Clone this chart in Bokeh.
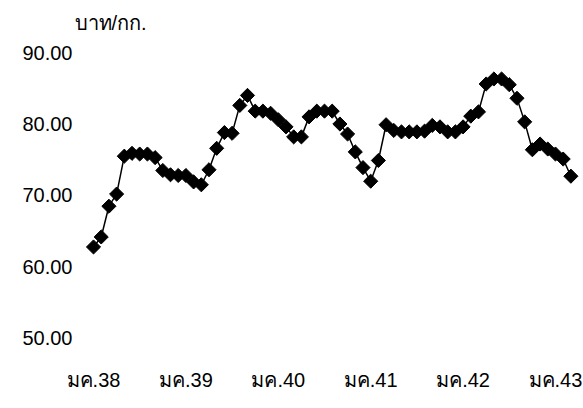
import math
from bokeh.plotting import figure
from bokeh.models import Range1d, FixedTicker, ColumnDataSource
from bokeh.embed import file_html
from bokeh.resources import INLINE

# ---- data (monthly, Jan 1995 = มค.38 .. Mar 2000) ----
months = list(range(63))
prices = [62.8, 64.2, 68.5, 70.2, 75.5, 75.9, 75.8, 75.8, 75.3, 73.5,
          72.9, 72.8, 72.8, 71.9, 71.5, 73.6, 76.6, 78.8, 78.7, 82.6,
          84.0, 81.8, 81.8, 81.5, 80.6, 79.6, 78.2, 78.2, 81.0, 81.8,
          81.8, 81.8, 80.0, 78.6, 76.1, 73.9, 72.0, 74.9, 79.9, 79.1,
          78.9, 78.9, 78.9, 79.0, 79.8, 79.6, 78.9, 78.9, 79.6, 81.1,
          81.7, 85.6, 86.3, 86.3, 85.5, 83.6, 80.3, 76.4, 77.2, 76.5,
          75.8, 75.1, 72.7]
x_tick_pos = [0, 12, 24, 36, 48, 60]
x_tick_labels = ["มค.38", "มค.39", "มค.40", "มค.41", "มค.42", "มค.43"]
y_ticks = [50, 60, 70, 80, 90]
y_unit = "บาท/กก."

FONT = "Liberation Sans"

p = figure(width=583, height=408, output_backend="svg", toolbar_location=None,
           x_range=Range1d(-1.69, 63.64), y_range=Range1d(46.92, 92.52),
           title=y_unit, min_border_left=80, min_border_right=0,
           min_border_bottom=48, min_border_top=34)
p.title.text_font = FONT
p.title.text_font_size = "20px"
p.title.text_font_style = "normal"
p.title.align = "left"
p.title.offset = -6
p.title.standoff = 2
p.title.text_color = "#000000"

p.outline_line_color = None
p.xgrid.visible = False
p.ygrid.visible = False

src = ColumnDataSource(dict(x=months, y=prices))
p.line("x", "y", source=src, line_color="black", line_width=1.5)
p.scatter("x", "y", source=src, marker="square", size=10, angle=math.pi / 4,
          fill_color="black", line_color="black")

for ax in (p.xaxis[0], p.yaxis[0]):
    ax.axis_line_color = None
    ax.major_tick_line_color = None
    ax.minor_tick_line_color = None
    ax.major_tick_out = 0
    ax.major_tick_in = 0
    ax.major_label_text_font = FONT
    ax.major_label_text_font_size = "20px"
    ax.major_label_text_color = "#000000"

p.xaxis[0].ticker = FixedTicker(ticks=x_tick_pos)
p.xaxis[0].major_label_overrides = {t: l for t, l in zip(x_tick_pos, x_tick_labels)}
p.xaxis[0].major_label_standoff = 8

p.yaxis[0].ticker = FixedTicker(ticks=y_ticks)
p.yaxis[0].major_label_overrides = {t: f"{t:.2f}" for t in y_ticks}
p.yaxis[0].major_label_standoff = 8

open("out.html", "w").write(file_html(p, INLINE))
